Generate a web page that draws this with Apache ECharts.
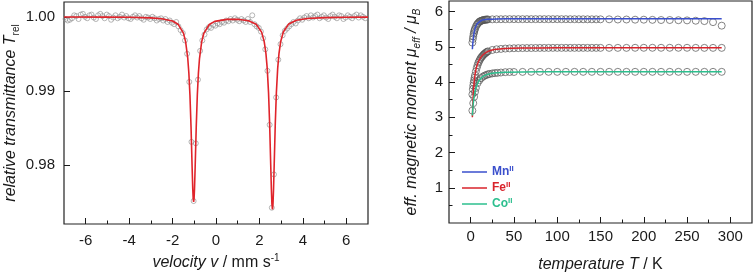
<!DOCTYPE html>
<html><head><meta charset="utf-8">
<script src="https://cdn.jsdelivr.net/npm/echarts@6/dist/echarts.min.js"></script>
<style>html,body{margin:0;padding:0;background:#fff}#c{width:753px;height:275px}</style>
</head><body><div id="c"></div>
<script>
// ---- Left panel: Mössbauer spectrum ----
const velocity = [
-6.93,-6.83,-6.73,-6.63,-6.53,-6.43,-6.33,-6.23,-6.13,-6.03,
-5.93,-5.83,-5.73,-5.63,-5.53,-5.43,-5.33,-5.23,-5.13,-5.03,
-4.93,-4.83,-4.73,-4.63,-4.53,-4.43,-4.33,-4.23,-4.13,-4.03,
-3.93,-3.83,-3.73,-3.63,-3.53,-3.43,-3.33,-3.23,-3.13,-3.03,
-2.93,-2.83,-2.73,-2.63,-2.53,-2.43,-2.33,-2.23,-2.13,-2.03,
-1.93,-1.83,-1.73,-1.63,-1.53,-1.43,-1.33,-1.23,-1.13,-1.03,
-0.93,-0.83,-0.73,-0.63,-0.53,-0.43,-0.33,-0.23,-0.13,-0.03,
0.07,0.17,0.27,0.37,0.47,0.57,0.67,0.77,0.87,0.97,
1.07,1.17,1.27,1.37,1.47,1.57,1.67,1.77,1.87,1.97,
2.07,2.17,2.27,2.37,2.47,2.57,2.67,2.77,2.87,2.97,
3.07,3.17,3.27,3.37,3.47,3.57,3.67,3.77,3.87,3.97,
4.07,4.17,4.27,4.37,4.47,4.57,4.67,4.77,4.87,4.97,
5.07,5.17,5.27,5.37,5.47,5.57,5.67,5.77,5.87,5.97,
6.07,6.17,6.27,6.37,6.47,6.57,6.67,6.77,6.87];
const transmittance = [
0.9997,0.9995,0.9996,0.9998,1.0002,1.0001,0.9997,1.0003,1.0004,1.0000,
0.9998,1.0002,1.0003,0.9999,0.9997,1.0002,1.0004,1.0001,0.9998,1.0003,
1.0001,0.9996,0.9999,1.0002,0.9998,1.0000,1.0003,0.9999,1.0001,0.9998,
0.9997,1.0000,1.0002,0.9999,1.0001,0.9998,0.9996,1.0000,0.9999,0.9997,
1.0000,0.9998,0.9995,0.9997,0.9998,0.9995,0.9997,0.9993,0.9995,0.9992,
0.9990,0.9993,0.9987,0.9982,0.9978,0.9968,0.9950,0.9912,0.9831,0.9751,
0.9829,0.9915,0.9954,0.9968,0.9976,0.9983,0.9986,0.9985,0.9989,0.9988,
0.9991,0.9990,0.9993,0.9992,0.9995,0.9994,0.9997,0.9995,0.9998,0.9996,
0.9994,0.9997,0.9995,0.9993,0.9997,0.9993,1.0002,0.9990,0.9987,0.9985,
0.9980,0.9971,0.9956,0.9927,0.9854,0.9742,0.9787,0.9891,0.9942,0.9963,
0.9975,0.9981,0.9984,0.9987,0.9990,0.9993,0.9991,0.9995,0.9998,0.9996,
0.9999,1.0001,0.9998,1.0002,0.9999,1.0001,1.0003,0.9998,1.0000,1.0002,
0.9999,0.9997,1.0001,1.0003,1.0000,0.9998,1.0002,1.0001,0.9997,0.9999,
1.0002,1.0000,0.9998,1.0001,1.0003,0.9999,1.0002,1.0000,0.9998];
const fitVelocity = [-7,-5,-4,-3,-2.5,-2,-1.75,-1.5,-1.4,-1.3,-1.25,-1.2,-1.15,-1.1,-1.07,-1.05,-1.03,-1.01,-0.99,-0.96,-0.91,-0.86,-0.81,-0.76,-0.66,-0.56,-0.31,-0.06,0.5,1.0,1.5,1.85,2.1,2.22,2.3,2.36,2.42,2.47,2.52,2.55,2.575,2.6,2.625,2.65,2.68,2.73,2.78,2.84,2.9,2.98,3.1,3.35,3.7,4.2,5,6,7];
const fitTransmittance = [0.99998,0.99996,0.99993,0.99985,0.99974,0.99943,0.99900,0.99780,0.99664,0.99437,0.99240,0.98944,0.98513,0.97969,0.97673,0.97543,0.97497,0.97543,0.97673,0.97968,0.98512,0.98943,0.99239,0.99436,0.99663,0.99777,0.99896,0.99938,0.99965,0.99966,0.99947,0.99900,0.99793,0.99664,0.99503,0.99300,0.98972,0.98554,0.98002,0.97672,0.97471,0.97396,0.97471,0.97672,0.98002,0.98554,0.98972,0.99300,0.99503,0.99667,0.99795,0.99904,0.99953,0.99977,0.99989,0.99994,0.99996];
const velTicks = [-6,-4,-2,0,2,4,6];
const velMinorTicks = [-5,-3,-1,1,3,5];
const transTicks = [0.98,0.99,1.00];

// ---- Right panel: effective magnetic moment ----
const mnT = [2,2.5,3,3.5,4,4.5,5,6,7,8,9,10,11,12,13,14,15,16,17,18,19,20,25,30,35,40,45,50,55,60,65,70,75,80,85,90,95,100,105,110,115,120,125,130,135,140,145,150,160,170,180,190,200,210,220,230,240,250,260,270,280,290];
const mnMu = [5.12,5.22,5.30,5.37,5.42,5.47,5.51,5.57,5.62,5.655,5.68,5.71,5.725,5.735,5.745,5.755,5.76,5.765,5.77,5.772,5.775,5.777,
5.78,5.782,5.783,5.784,5.785,5.785,5.785,5.785,5.785,5.785,5.785,5.785,5.785,5.785,5.785,5.785,5.784,5.784,5.783,5.783,5.782,5.782,5.781,5.781,5.78,5.78,
5.78,5.775,5.775,5.77,5.77,5.765,5.76,5.76,5.755,5.75,5.74,5.73,5.70,5.60];
const feT = mnT.slice();
const feMu = [3.65,3.80,3.90,3.98,4.05,4.12,4.19,4.30,4.40,4.48,4.55,4.60,4.65,4.69,4.72,4.75,4.78,4.80,4.82,4.84,4.86,4.87,
4.91,4.93,4.94,4.95,4.955,4.96,4.962,4.964,4.965,4.966,4.967,4.968,4.968,4.969,4.97,4.97,4.97,4.97,4.97,4.97,4.97,4.97,4.97,4.97,4.97,4.97,
4.97,4.97,4.97,4.972,4.972,4.972,4.972,4.972,4.972,4.972,4.97,4.97,4.97,4.97];
const coT = [2,3,4,5,6,8,10,12,14,16,18,20,22,25,28,31,35,40,45,50,60,70,80,90,100,110,120,130,140,150,160,170,180,190,200,210,220,230,240,250,260,270,280,290];
const coMu = [3.19,3.40,3.58,3.72,3.83,3.97,4.05,4.11,4.15,4.18,4.20,4.22,4.23,4.245,4.255,4.26,4.27,4.28,4.285,4.285,
4.288,4.29,4.29,4.29,4.29,4.29,4.29,4.29,4.29,4.29,4.29,4.29,4.29,4.29,4.29,4.29,4.29,4.29,4.29,4.29,4.29,4.29,4.29,4.29];
const mnFitT = [2,2.5,3,3.5,4,5,6,7,8,10,12,15,20,30,50,100,290];
const mnFitMu = [4.93,5.10,5.22,5.32,5.40,5.51,5.58,5.63,5.665,5.71,5.74,5.765,5.78,5.79,5.795,5.795,5.795];
const feFitT = [2,2.5,3,3.5,4,5,6,7,8,10,12,15,20,25,30,40,60,100,290];
const feFitMu = [3.00,3.35,3.62,3.82,3.98,4.20,4.34,4.44,4.52,4.63,4.71,4.79,4.87,4.91,4.93,4.955,4.965,4.97,4.97];
const coFitT = [2,3,4,5,6,8,10,12,15,20,25,30,40,60,100,290];
const coFitMu = [3.05,3.38,3.58,3.72,3.82,3.96,4.05,4.11,4.17,4.22,4.25,4.265,4.28,4.288,4.29,4.29];
const tempTicks = [0,50,100,150,200,250,300];
const tempMinorTicks = [25,75,125,175,225,275];
const momentTicks = [1,2,3,4,5,6];
const momentMinorTicks = [0.5,1.5,2.5,3.5,4.5,5.5];
const ionNames = ['Mn','Fe','Co'];
const ionColors = ['#3a4fcc','#d9232b','#2cbf8e'];

const FONT = "'Liberation Sans', Arial, Helvetica, sans-serif";
const INK = '#1a1a1a';
const pair = (xs, ys) => xs.map((x, i) => [x, ys[i]]);

const richName = {
  i: {fontStyle: 'italic', fontSize: 16, fontFamily: FONT, color: INK, lineHeight: 20},
  n: {fontSize: 16, fontFamily: FONT, color: INK, lineHeight: 20},
  sub: {fontSize: 10, fontFamily: FONT, color: INK, lineHeight: 9, verticalAlign: 'bottom'},
  isub: {fontSize: 10, fontStyle: 'italic', fontFamily: FONT, color: INK, lineHeight: 9, verticalAlign: 'bottom'},
  sup: {fontSize: 10, fontFamily: FONT, color: INK, lineHeight: 10, verticalAlign: 'top'}
};
function majorX(grid, min, max, ticks, name, gap, margin) {
  return {
    type: 'value', gridIndex: grid, min: min, max: max, position: 'bottom',
    axisLine: {show: false, onZero: false}, splitLine: {show: false},
    axisTick: {show: true, inside: true, length: 6, customValues: ticks, lineStyle: {color: INK, width: 1}},
    axisLabel: {show: true, customValues: ticks, margin: margin, color: INK, fontSize: 15, fontFamily: FONT},
    name: name, nameLocation: 'middle', nameGap: gap,
    nameTextStyle: {fontFamily: FONT, color: INK, rich: richName}
  };
}
function minorX(grid, min, max, ticks) {
  return {
    type: 'value', gridIndex: grid, min: min, max: max, position: 'bottom',
    axisLine: {show: false, onZero: false}, splitLine: {show: false}, axisLabel: {show: false},
    axisTick: {show: true, inside: true, length: 3.5, customValues: ticks, lineStyle: {color: INK, width: 1}}
  };
}

const legendRich = {};
ionNames.forEach((n, k) => {
  legendRich[n] = {color: ionColors[k], fontWeight: 'bold', fontSize: 12, fontFamily: FONT, lineHeight: 14};
  legendRich[n + 'S'] = {color: ionColors[k], fontWeight: 'bold', fontSize: 8, fontFamily: FONT, lineHeight: 8, verticalAlign: 'top'};
});

const chart = echarts.init(document.getElementById('c'));
chart.setOption({
  animation: false,
  backgroundColor: '#fff',
  grid: [
    {left: 64, top: 2, width: 304, height: 222, show: true, borderColor: '#222', borderWidth: 1.2, backgroundColor: 'transparent', containLabel: false, outerBoundsMode: 'none'},
    {left: 449, top: 1, width: 303, height: 222, show: true, borderColor: '#222', borderWidth: 1.2, backgroundColor: 'transparent', containLabel: false, outerBoundsMode: 'none'}
  ],
  xAxis: [
    majorX(0, -7, 7, velTicks, '{i|velocity v}{n| / mm s}{sup|-1}', 29, 9),
    minorX(0, -7, 7, velMinorTicks),
    majorX(1, -25, 325, tempTicks, '{i|temperature T}{n| / K}', 32, 6),
    minorX(1, -25, 325, tempMinorTicks)
  ],
  yAxis: [
    {
      type: 'value', gridIndex: 0, min: 0.972, max: 1.002, position: 'left',
      axisLine: {show: false, onZero: false}, splitLine: {show: false},
      axisTick: {show: true, inside: true, length: 6, customValues: transTicks, lineStyle: {color: INK}},
      axisLabel: {customValues: transTicks, formatter: v => v.toFixed(2), margin: 9, color: INK, fontSize: 15, fontFamily: FONT},
      name: '{i|relative transmittance T}{sub|rel}', nameLocation: 'middle', nameGap: 43, nameRotate: 90,
      nameTextStyle: {fontFamily: FONT, color: INK, rich: richName}
    },
    {
      type: 'value', gridIndex: 1, min: 0, max: 6.3, position: 'left',
      axisLine: {show: false, onZero: false}, splitLine: {show: false},
      axisTick: {show: true, inside: true, length: 6, customValues: momentTicks, lineStyle: {color: INK}},
      axisLabel: {customValues: momentTicks, margin: 6, color: INK, fontSize: 15, fontFamily: FONT},
      name: '{i|eff. magnetic moment μ}{isub|eff}{i| / μ}{isub|B}', nameLocation: 'middle', nameGap: 27, nameRotate: 90,
      nameTextStyle: {fontFamily: FONT, color: INK, rich: richName}
    },
    {
      type: 'value', gridIndex: 1, min: 0, max: 6.3, position: 'left',
      axisLine: {show: false, onZero: false}, splitLine: {show: false}, axisLabel: {show: false},
      axisTick: {show: true, inside: true, length: 3.5, customValues: momentMinorTicks, lineStyle: {color: INK}}
    }
  ],
  legend: {
    data: ionNames, orient: 'vertical', left: 462, top: 165, padding: 0, itemGap: 3,
    itemWidth: 25, itemHeight: 1.5, icon: 'rect', selectedMode: false,
    formatter: n => '{' + n + '|' + n + '}{' + n + 'S|II}',
    textStyle: {rich: legendRich}
  },
  series: [
    {type: 'scatter', xAxisIndex: 0, yAxisIndex: 0, data: pair(velocity, transmittance),
     symbol: 'circle', symbolSize: 5, silent: true, z: 2,
     itemStyle: {color: 'rgba(0,0,0,0)', borderColor: '#8c8c8c', borderWidth: 0.8}},
    {type: 'line', xAxisIndex: 0, yAxisIndex: 0, data: pair(fitVelocity, fitTransmittance),
     showSymbol: false, symbol: 'none', z: 3, color: '#e0242b', lineStyle: {color: '#e0242b', width: 1.6}},
    {type: 'scatter', xAxisIndex: 2, yAxisIndex: 1, data: pair(mnT, mnMu), symbol: 'circle', symbolSize: 7, z: 2,
     itemStyle: {color: 'rgba(0,0,0,0)', borderColor: '#555', borderWidth: 0.9}},
    {type: 'scatter', xAxisIndex: 2, yAxisIndex: 1, data: pair(feT, feMu), symbol: 'circle', symbolSize: 7, z: 2,
     itemStyle: {color: 'rgba(0,0,0,0)', borderColor: '#555', borderWidth: 0.9}},
    {type: 'scatter', xAxisIndex: 2, yAxisIndex: 1, data: pair(coT, coMu), symbol: 'circle', symbolSize: 7, z: 2,
     itemStyle: {color: 'rgba(0,0,0,0)', borderColor: '#555', borderWidth: 0.9}},
    {name: 'Mn', type: 'line', xAxisIndex: 2, yAxisIndex: 1, data: pair(mnFitT, mnFitMu), showSymbol: false, symbol: 'none',
     smooth: 0.3, z: 3, color: ionColors[0], lineStyle: {color: ionColors[0], width: 1.5}},
    {name: 'Fe', type: 'line', xAxisIndex: 2, yAxisIndex: 1, data: pair(feFitT, feFitMu), showSymbol: false, symbol: 'none',
     smooth: 0.3, z: 3, color: ionColors[1], lineStyle: {color: ionColors[1], width: 1.5}},
    {name: 'Co', type: 'line', xAxisIndex: 2, yAxisIndex: 1, data: pair(coFitT, coFitMu), showSymbol: false, symbol: 'none',
     smooth: 0.3, z: 3, color: ionColors[2], lineStyle: {color: ionColors[2], width: 1.5}}
  ]
});
</script></body></html>
